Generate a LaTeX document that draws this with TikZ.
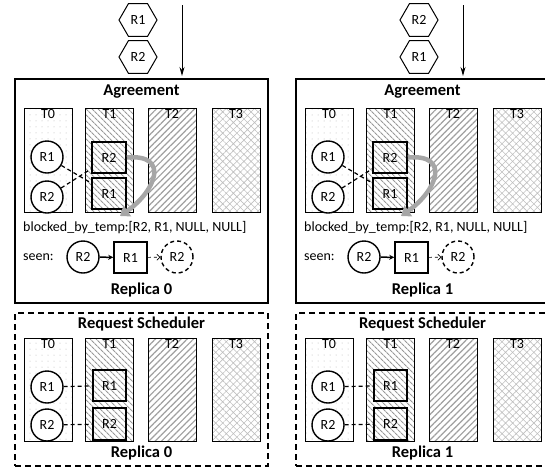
\documentclass[tikz,border=0pt]{standalone}
\usepackage{fontspec}
\setmainfont{Carlito}
\usetikzlibrary{shapes.geometric,arrows.meta,patterns.meta,positioning}

\tikzset{
  req/.style = {regular polygon, regular polygon sides=6, draw, line width=1pt,
    minimum size=38pt, inner sep=0pt},
  panel/.style = {draw, line width=1.4pt, minimum width=253pt, minimum height=224pt},
  schedpanel/.style = {draw, line width=1.4pt, dash pattern=on 6pt off 4pt,
    minimum width=253pt, minimum height=153pt},
  title/.style = {font=\fontsize{16.5}{18}\selectfont\bfseries},
  thread/.style = {draw, line width=1pt, minimum width=48pt, inner sep=0pt},
  tzero/.style = {pattern={Dots[distance=6pt, radius=0.5pt]}, pattern color=gray!60},
  tone/.style = {pattern={Lines[angle=-45, distance=4pt, line width=1.1pt]}, pattern color=gray!80},
  ttwo/.style = {pattern={Lines[angle=45, distance=4.5pt, line width=1.2pt]}, pattern color=gray!75},
  tthree/.style = {pattern={Hatch[angle=45, distance=5pt, line width=0.6pt]}, pattern color=gray!50},
  reqc/.style = {circle, draw, fill=white, line width=1.4pt, minimum size=32pt, inner sep=0pt},
  reqs/.style = {draw, line width=1.6pt, minimum width=34pt, minimum height=31pt, inner sep=0pt},
  link/.style = {dashed, line width=1.2pt, dash pattern=on 4pt off 3pt}
}

\begin{document}
\begin{tikzpicture}[x=1pt, y=-1pt,
  every node/.style = {font=\fontsize{14}{16}\selectfont}]
  \clip (0,0) rectangle (545,469);
  \foreach \r/\dx/\qa/\qb in {0/0/R1/R2, 1/281/R2/R1}{
  \begin{scope}[xshift=\dx pt]
    % incoming requests
    \node[req] (ha\r) at (138,20) {\qa};
    \node[req] (hb\r) at (138,57) {\qb};
    \coordinate (in\r) at (182,5);
    \coordinate (out\r) at (182,76);
    \draw[-{Stealth[length=9pt,width=5pt]}, line width=1pt] (in\r) -- (out\r);
    % agreement
    \node[panel] (agr\r) at (141.5,191) {};
    \node[title] (agrt\r) at (141.5,92) {Agreement};
    \foreach \t/\x/\f in {0/48/tzero, 1/109.5/tone, 2/172/ttwo, 3/236/tthree}
      \node[thread, \f, minimum height=104pt,
        label={[anchor=north, inner sep=2pt]north:T\t}] (at\t\r) at (\x,160) {};
    \node[reqc] (ac1\r) at (47,157) {R1};
    \node[reqc] (ac2\r) at (47,197) {R2};
    \node[reqs] (as2\r) at (109,157.5) {R2};
    \node[reqs] (as1\r) at (109,193.5) {R1};
    \draw[link] (ac1\r) -- (as1\r);
    \draw[link] (ac2\r) -- (as2\r);
    \coordinate (bt\r) at (120,216);
    \draw[gray!70, line width=4.5pt, -{Triangle[length=9pt,width=13pt]}]
      (as2\r.east) to[out=5, in=35, looseness=1.9] (bt\r);
    \node[anchor=west, inner sep=0pt] (blk\r) at (23,228)
      {blocked\_by\_temp:[R2, R1, NULL, NULL]};
    \node[anchor=west, inner sep=0pt] (seen\r) at (23,257) {seen:};
    \node[reqc] (sc\r) at (83,257) {R2};
    \node[reqs, minimum width=33pt] (ss\r) at (130.5,257.5) {R1};
    \node[reqc, dashed, dash pattern=on 4pt off 3pt] (sd\r) at (177,257) {R2};
    \draw[line width=1.5pt, -{Stealth[length=5pt,width=5pt]}] (sc\r) -- (ss\r);
    \draw[dashed, line width=0.6pt, -{Straight Barb[length=3pt]}] (ss\r) -- (sd\r);
    \node[title] (agrr\r) at (141.5,290) {Replica \r};
    % request scheduler
    \node[schedpanel] (sch\r) at (141.5,389.5) {};
    \node[title] (scht\r) at (141.5,324) {Request Scheduler};
    \foreach \t/\x/\f in {0/48/tzero, 1/109.5/tone, 2/172/ttwo, 3/236/tthree}
      \node[thread, \f, minimum height=103pt,
        label={[anchor=north, inner sep=2pt]north:T\t}] (bt\t\r) at (\x,389.5) {};
    \node[reqc] (bc1\r) at (47,387) {R1};
    \node[reqc] (bc2\r) at (47,425) {R2};
    \node[reqs, minimum width=33pt] (bs1\r) at (109.5,385.5) {R1};
    \node[reqs, minimum width=33pt, minimum height=32pt] (bs2\r) at (109.5,424) {R2};
    \draw[link] (bc1\r) -- (bs1\r);
    \draw[link] (bc2\r) -- (bs2\r);
    \node[title] (schr\r) at (141.5,453) {Replica \r};
  \end{scope}
  }
\end{tikzpicture}
\end{document}
